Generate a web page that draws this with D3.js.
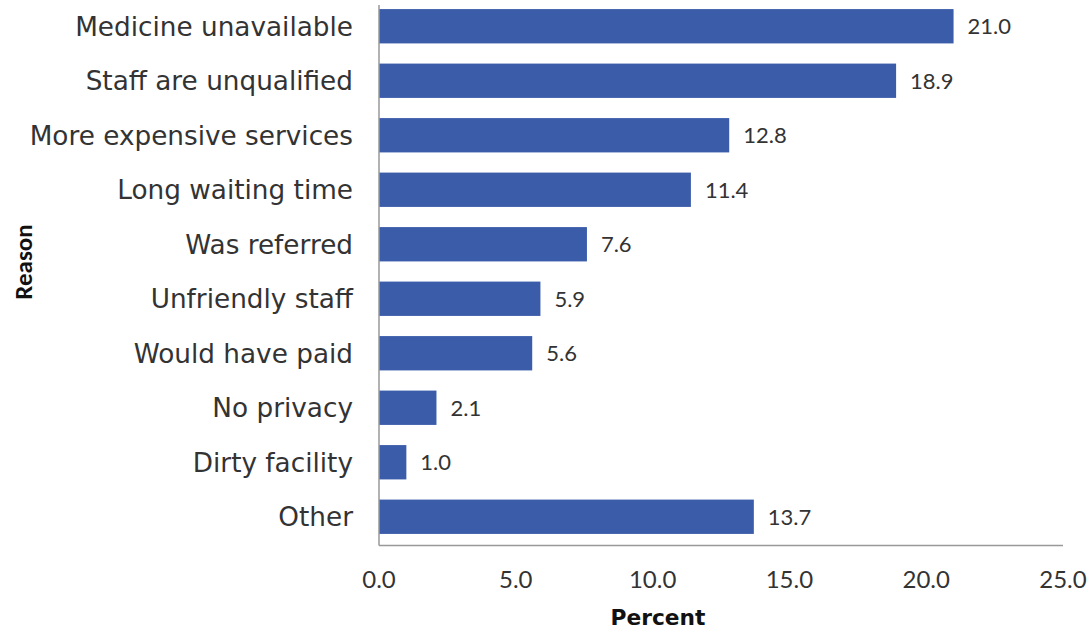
<!DOCTYPE html>
<html><head><meta charset="utf-8">
<script src="https://cdn.jsdelivr.net/npm/d3@7"></script>
<style>
body{margin:0;background:#fff;}
svg{display:block;}
</style></head>
<body>
<svg id="c" width="1091" height="630"></svg>
<script>
const categories = ["Medicine unavailable","Staff are unqualified","More expensive services","Long waiting time","Was referred","Unfriendly staff","Would have paid","No privacy","Dirty facility","Other"];
const values = [21.0,18.9,12.8,11.4,7.6,5.9,5.6,2.1,1.0,13.7];
const xTicks = [0,5,10,15,20,25];
const xTitle = "Percent";
const yTitle = "Reason";

(function(){
const svg = d3.select("#c");
const pLeft = 379, pRight = 1063, pTop = -1, pBottom = 544;
const x = d3.scaleLinear().domain([0,25]).range([pLeft,pRight]);
const y = d3.scaleBand().domain(categories).range([pTop,pBottom]).paddingInner(0.37).paddingOuter(0.185);
const font = "'DejaVu Sans', sans-serif";
const numFont = "Lato, 'Open Sans', sans-serif";
const barColor = "#3a5ca9";

function fit(sel, node, target, base){
  const w = node.getComputedTextLength();
  const s = base*target/w;
  sel.attr("font-size", s);
  return s;
}

svg.selectAll("rect.bar").data(values).enter().append("rect")
  .attr("x", x(0)).attr("y",(d,i)=>y(categories[i]))
  .attr("width", d=>x(d)-x(0)).attr("height", y.bandwidth())
  .attr("fill", barColor);

svg.append("line").attr("x1",pLeft).attr("x2",pLeft).attr("y1",5).attr("y2",545.5).attr("stroke","#999").attr("stroke-width",1.5);
svg.append("line").attr("x1",pLeft).attr("x2",pRight).attr("y1",545.5).attr("y2",545.5).attr("stroke","#999").attr("stroke-width",1.5);

const cl = svg.selectAll("text.cat").data(categories).enter().append("text")
  .attr("x",353).attr("y",d=>y(d)+y.bandwidth()/2).attr("dy","0.36em")
  .attr("text-anchor","end").attr("font-family",font).attr("font-size",20)
  .attr("fill","#333").text(d=>d);
fit(cl, cl.nodes()[0], 278, 20);

svg.selectAll("text.val").data(values).enter().append("text")
  .attr("x",d=>x(d)+14).attr("y",(d,i)=>y(categories[i])+y.bandwidth()/2).attr("dy","0.36em")
  .attr("font-family",numFont).attr("font-size",22).attr("fill","#333")
  .text(d=>d.toFixed(1));

svg.selectAll("text.tick").data(xTicks).enter().append("text")
  .attr("x",d=>x(d)).attr("y",588).attr("text-anchor","middle")
  .attr("font-family",numFont).attr("font-size",24).attr("fill","#333")
  .text(d=>d.toFixed(1));

const xt = svg.append("text").attr("x",658).attr("y",625).attr("text-anchor","middle")
  .attr("font-family",font).attr("font-weight","bold").attr("font-size",20).attr("fill","#111").text(xTitle);
fit(xt, xt.node(), 95, 20);
svg.append("text").attr("transform","translate(32,262) rotate(-90)").attr("text-anchor","middle")
  .attr("font-family","Carlito, 'Liberation Sans', sans-serif").attr("font-weight","bold").attr("font-size",25).attr("fill","#111").text(yTitle);
})();
</script>
</body></html>
